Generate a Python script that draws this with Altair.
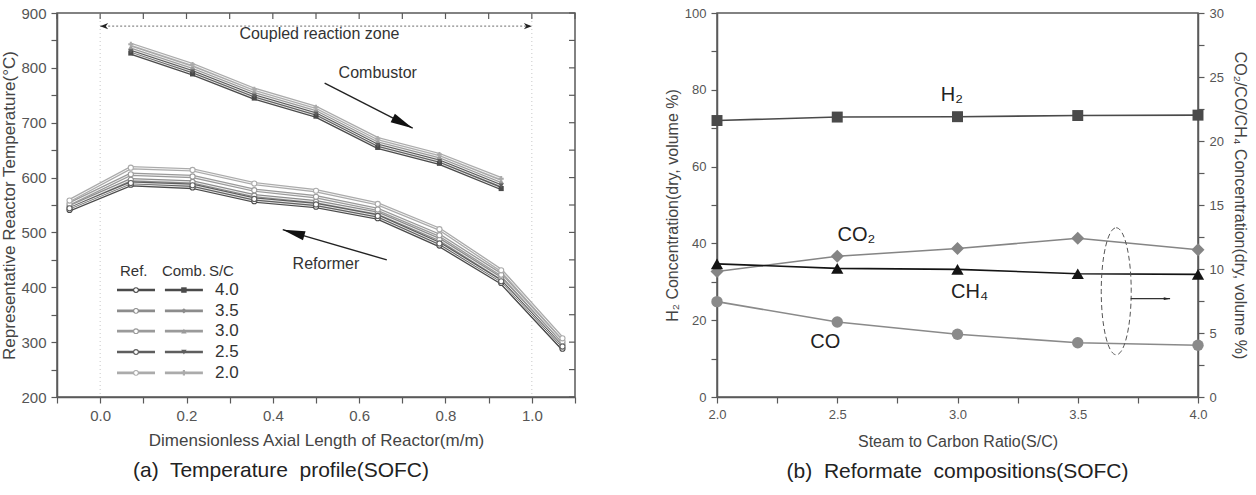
import altair as alt
import pandas as pd

FONT = "Liberation Sans"
AX = "#5a5a5a"
LBL = "#555555"
TTL = "#444444"

# ---------------- (a) temperature profile ----------------
ref_pos = [-0.071, 0.071, 0.214, 0.357, 0.5, 0.643, 0.786, 0.929, 1.071]
comb_pos = [0.071, 0.214, 0.357, 0.5, 0.643, 0.786, 0.929]

sc_levels = ["4.0", "3.5", "3.0", "2.5", "2.0"]
sc_colors = ["#4a4a4a", "#8c8c8c", "#9a9a9a", "#5e5e5e", "#ababab"]
comb_shapes = ["square", "diamond", "triangle-up", "triangle-down", "cross"]

# reformer side temperatures (deg C)
ref_40 = [541, 587, 582, 557, 547, 526, 476, 408, 288]
ref_35 = [547, 596, 592, 567, 556, 535, 487, 416, 296]
ref_30 = [552, 606, 602, 577, 565, 542, 495, 423, 301]
ref_25 = [544, 590, 586, 561, 551, 530, 480, 411, 292]
ref_20 = [558, 618, 614, 589, 576, 552, 506, 431, 307]

# combustor side temperatures (deg C)
comb_40 = [827, 789, 745, 712, 655, 626, 580]
comb_35 = [834, 797, 753, 720, 663, 634, 589]
comb_30 = [838, 801, 757, 724, 667, 638, 593]
comb_25 = [830, 793, 749, 716, 659, 630, 585]
comb_20 = [843, 806, 761, 728, 671, 642, 598]

x_ticks_a = [-0.1, 0.0, 0.1, 0.2, 0.3, 0.4, 0.5, 0.6, 0.7, 0.8, 0.9, 1.0, 1.1]
y_ticks_a = [200, 250, 300, 350, 400, 450, 500, 550, 600, 650, 700, 750, 800, 850, 900]

zone_edges = [0.0, 1.0]
zone_level = 876

legend_rows = [395, 357, 320, 282, 244]
legend_head = 430

W_A, H_A = 518, 384

ref_series = [ref_40, ref_35, ref_30, ref_25, ref_20]
comb_series = [comb_40, comb_35, comb_30, comb_25, comb_20]

df_ref = pd.DataFrame(
    [{"sc": s, "x": x, "T": t} for s, ts in zip(sc_levels, ref_series) for x, t in zip(ref_pos, ts)]
)
df_comb = pd.DataFrame(
    [{"sc": s, "x": x, "T": t} for s, ts in zip(sc_levels, comb_series) for x, t in zip(comb_pos, ts)]
)

ax_x_a = alt.Axis(
    values=x_ticks_a,
    labelExpr="round(datum.value*10) % 2 == 0 ? format(datum.value, '.1f') : ''",
    title="Dimensionless Axial Length of Reactor(m/m)",
    grid=False, tickSize=6, labelPadding=5, titlePadding=9,
    labelFontSize=15, titleFontSize=17, labelFont=FONT, titleFont=FONT,
    labelColor=LBL, titleColor=TTL, titleFontWeight="normal",
    domainColor=AX, tickColor=AX, domainWidth=1.5, tickWidth=1.2,
    labelOverlap=False, labelFlush=False,
)
ax_y_a = alt.Axis(
    values=y_ticks_a,
    labelExpr="datum.value % 100 == 0 ? datum.label : ''",
    title="Representative Reactor Temperature(°C)",
    grid=False, tickSize=6, labelPadding=5, titlePadding=2,
    labelFontSize=15, titleFontSize=17, labelFont=FONT, titleFont=FONT,
    labelColor=LBL, titleColor=TTL, titleFontWeight="normal",
    domainColor=AX, tickColor=AX, domainWidth=1.5, tickWidth=1.2,
    labelOverlap=False, labelFlush=False,
)


def ax_(field):
    return alt.X(field, type="quantitative",
                 scale=alt.Scale(domain=[-0.1, 1.1], nice=False, zero=False), axis=ax_x_a)


def ay_(field):
    return alt.Y(field, type="quantitative",
                 scale=alt.Scale(domain=[200, 900], nice=False, zero=False), axis=ax_y_a)


col_scale = alt.Scale(domain=sc_levels, range=sc_colors)
shp_scale = alt.Scale(domain=sc_levels, range=comb_shapes)

edges = alt.Chart(pd.DataFrame({"x": zone_edges})).mark_rule(
    color="#c8c8c8", strokeDash=[1, 3], strokeWidth=1
).encode(x=ax_("x"))


def tube(df):
    outer = alt.Chart(df).mark_line(strokeWidth=3.4).encode(
        x=ax_("x"), y=ay_("T"), color=alt.Color("sc:N", scale=col_scale, legend=None)
    )
    inner = alt.Chart(df).mark_line(strokeWidth=1.0, color="white", opacity=0.85).encode(
        x=ax_("x"), y=ay_("T"), detail="sc:N"
    )
    return outer + inner


ref_pts = alt.Chart(df_ref).mark_point(
    shape="circle", size=26, fill="white", fillOpacity=1, strokeWidth=1.1
).encode(x=ax_("x"), y=ay_("T"), stroke=alt.Stroke("sc:N", scale=col_scale, legend=None))

comb_pts = alt.Chart(df_comb).mark_point(filled=True, size=26, opacity=1).encode(
    x=ax_("x"), y=ay_("T"),
    color=alt.Color("sc:N", scale=col_scale, legend=None),
    shape=alt.Shape("sc:N", scale=shp_scale, legend=None),
)

# coupled reaction zone marker
zone_line = alt.Chart(pd.DataFrame({"x": [zone_edges[0]], "x2": [zone_edges[1]], "T": [zone_level]})).mark_rule(
    color="#8a8a8a", strokeDash=[2, 2], strokeWidth=1.2
).encode(x=ax_("x"), x2="x2:Q", y=ay_("T"))

BARB = "M0,0L-2,-0.8L-1.4,0L-2,0.8Z"
zone_heads = alt.Chart(pd.DataFrame({"x": zone_edges, "T": [zone_level, zone_level], "a": [180, 0]})).mark_point(
    shape=BARB, size=64, filled=True, color="#222", opacity=1
).encode(x=ax_("x"), y=ay_("T"), angle=alt.Angle("a:Q", scale=None))

zone_text = alt.Chart(pd.DataFrame({"x": [0.508], "T": [862], "t": ["Coupled reaction zone"]})).mark_text(
    font=FONT, fontSize=16, color="#333"
).encode(x=ax_("x"), y=ay_("T"), text="t:N")

ARROW = "M0,0L-2,-0.42L-2,0.42Z"
arrows = pd.DataFrame({
    "x": [0.52, 0.664], "T": [772, 450],
    "x2": [0.724, 0.423], "T2": [690, 505],
    "a": [27, 196],
})
arrow_lines = alt.Chart(arrows).mark_rule(color="#222", strokeWidth=1.4).encode(
    x=ax_("x"), y=ay_("T"), x2="x2:Q", y2="T2:Q"
)
arrow_heads = alt.Chart(arrows).mark_point(shape=ARROW, size=500, filled=True, color="#111", opacity=1).encode(
    x=ax_("x2"), y=ay_("T2"), angle=alt.Angle("a:Q", scale=None)
)
side_text = alt.Chart(pd.DataFrame({
    "x": [0.643, 0.523], "T": [790, 443], "t": ["Combustor", "Reformer"],
})).mark_text(font=FONT, fontSize=16, color="#333").encode(x=ax_("x"), y=ay_("T"), text="t:N")

# legend block
leg = pd.DataFrame({"sc": sc_levels, "T": legend_rows})
leg["rx0"], leg["rx1"], leg["rm"] = 0.039, 0.127, 0.083
leg["cx0"], leg["cx1"], leg["cm"] = 0.150, 0.238, 0.194
leg["tx"] = 0.266
leg_ref_line = alt.Chart(leg).mark_rule(strokeWidth=2.6).encode(
    x=ax_("rx0"), x2="rx1:Q", y=ay_("T"), color=alt.Color("sc:N", scale=col_scale, legend=None)
)
leg_comb_line = alt.Chart(leg).mark_rule(strokeWidth=2.6).encode(
    x=ax_("cx0"), x2="cx1:Q", y=ay_("T"), color=alt.Color("sc:N", scale=col_scale, legend=None)
)
leg_ref_pt = alt.Chart(leg).mark_point(shape="circle", size=22, fill="white", fillOpacity=1, strokeWidth=1.1).encode(
    x=ax_("rm"), y=ay_("T"), stroke=alt.Stroke("sc:N", scale=col_scale, legend=None)
)
leg_comb_pt = alt.Chart(leg).mark_point(filled=True, size=30, opacity=1).encode(
    x=ax_("cm"), y=ay_("T"),
    color=alt.Color("sc:N", scale=col_scale, legend=None),
    shape=alt.Shape("sc:N", scale=shp_scale, legend=None),
)
leg_text = alt.Chart(leg).mark_text(font=FONT, fontSize=17, color="#333", align="left").encode(
    x=ax_("tx"), y=ay_("T"), text="sc:N"
)
leg_head = alt.Chart(pd.DataFrame({
    "x": [0.046, 0.143, 0.252], "T": [legend_head] * 3, "t": ["Ref.", "Comb.", "S/C"],
})).mark_text(font=FONT, fontSize=15, color="#333", align="left").encode(x=ax_("x"), y=ay_("T"), text="t:N")

# inward ticks along the top and right frame
top_ticks = alt.Chart(pd.DataFrame({"x": x_ticks_a})).mark_rule(color=AX, strokeWidth=1.2).encode(
    x=ax_("x"), y=alt.value(0), y2=alt.value(6)
)
right_ticks = alt.Chart(pd.DataFrame({"T": y_ticks_a})).mark_rule(color=AX, strokeWidth=1.2).encode(
    y=ay_("T"), x=alt.value(W_A - 6), x2=alt.value(W_A)
)

panel_a = alt.layer(
    edges, tube(df_ref), tube(df_comb), ref_pts, comb_pts,
    zone_line, zone_heads, zone_text, arrow_lines, arrow_heads, side_text,
    leg_ref_line, leg_comb_line, leg_ref_pt, leg_comb_pt, leg_text, leg_head,
    top_ticks, right_ticks,
).properties(
    width=W_A, height=H_A,
    title=alt.TitleParams(
        text="(a)\u00a0 Temperature\u00a0 profile(SOFC)", orient="bottom", anchor="middle",
        font=FONT, fontSize=21, fontWeight="normal", color="#222", offset=12, dx=-35,
    ),
)

# ---------------- (b) reformate compositions ----------------
sc_ratio = [2.0, 2.5, 3.0, 3.5, 4.0]
h2 = [72.0, 72.9, 73.0, 73.3, 73.4]
co2 = [9.8, 11.0, 11.6, 12.4, 11.5]
ch4 = [10.4, 10.05, 9.97, 9.63, 9.58]
co = [7.45, 5.86, 4.9, 4.24, 4.04]

x_ticks_b = [2.0, 2.25, 2.5, 2.75, 3.0, 3.25, 3.5, 3.75, 4.0]
yl_ticks_b = [0, 10, 20, 30, 40, 50, 60, 70, 80, 90, 100]
yr_ticks_b = [0, 2.5, 5, 7.5, 10, 12.5, 15, 17.5, 20, 22.5, 25, 27.5, 30]

species = ["CO\u2082", "CH\u2084", "CO"]
species_colors = ["#858585", "#141414", "#8a8a8a"]
species_shapes = ["diamond", "triangle-up", "circle"]
species_sizes = [170, 130, 120]

W_B, H_B = 481, 384

common_b = dict(
    grid=False, tickSize=6, labelPadding=5,
    labelFontSize=13, titleFontSize=16, labelFont=FONT, titleFont=FONT,
    labelColor=LBL, titleColor=TTL, titleFontWeight="normal",
    domainColor=AX, tickColor=AX, domainWidth=1.5, tickWidth=1.2,
    labelOverlap=False, labelFlush=False,
)
ax_x_b = alt.Axis(
    values=x_ticks_b,
    labelExpr="round(datum.value*4) % 2 == 0 ? format(datum.value, '.1f') : ''",
    title="Steam to Carbon Ratio(S/C)", titlePadding=12, **common_b,
)
ax_yl_b = alt.Axis(
    values=yl_ticks_b,
    labelExpr="datum.value % 20 == 0 ? datum.label : ''",
    title="H\u2082 Concentration(dry, volume %)", titlePadding=4, **common_b,
)
ax_yr_b = alt.Axis(
    values=yr_ticks_b, orient="right",
    labelExpr="datum.value % 5 == 0 ? datum.label : ''",
    title="CO\u2082/CO/CH\u2084 Concentration(dry, volume %)", titlePadding=8, **common_b,
)


def bx(field):
    return alt.X(field, type="quantitative",
                 scale=alt.Scale(domain=[2.0, 4.0], nice=False, zero=False), axis=ax_x_b)


def byl(field):
    return alt.Y(field, type="quantitative",
                 scale=alt.Scale(domain=[0, 100], nice=False), axis=ax_yl_b)


def byr(field):
    return alt.Y(field, type="quantitative",
                 scale=alt.Scale(domain=[0, 30], nice=False), axis=ax_yr_b)


df_h2 = pd.DataFrame({"s": sc_ratio, "v": h2})
h2_line = alt.Chart(df_h2).mark_line(color="#4a4a4a", strokeWidth=1.6).encode(x=bx("s"), y=byl("v"))
h2_pts = alt.Chart(df_h2).mark_point(shape="square", size=120, filled=True, color="#4a4a4a", opacity=1).encode(
    x=bx("s"), y=byl("v")
)
labels_b = alt.Chart(pd.DataFrame({
    "s": [2.977, 2.58, 3.05, 2.45],
    "v": [77.1, 40.6, 25.8, 12.8],
    "t": ["H\u2082", "CO\u2082", "CH\u2084", "CO"],
})).mark_text(font=FONT, fontSize=20, color="#222", baseline="alphabetic").encode(
    x=bx("s"), y=byl("v"), text="t:N"
)
left_part = alt.layer(h2_line, h2_pts, labels_b)

df_sp = pd.DataFrame(
    [{"sp": n, "s": s, "v": v} for n, vals in zip(species, [co2, ch4, co]) for s, v in zip(sc_ratio, vals)]
)
sp_col = alt.Scale(domain=species, range=species_colors)
sp_lines = alt.Chart(df_sp).mark_line(strokeWidth=1.6).encode(
    x=bx("s"), y=byr("v"), color=alt.Color("sp:N", scale=sp_col, legend=None)
)
sp_pts = alt.Chart(df_sp).mark_point(filled=True, opacity=1).encode(
    x=bx("s"), y=byr("v"),
    color=alt.Color("sp:N", scale=sp_col, legend=None),
    shape=alt.Shape("sp:N", scale=alt.Scale(domain=species, range=species_shapes), legend=None),
    size=alt.Size("sp:N", scale=alt.Scale(domain=species, range=species_sizes), legend=None),
)

# dashed ellipse grouping the right-axis series, with its pointer
ELLIPSE = "M0,-1A0.236,1,0,1,1,0,1A0.236,1,0,1,1,0,-1Z"
ellipse = alt.Chart(pd.DataFrame({"s": [3.66], "v": [8.26]})).mark_point(
    shape=ELLIPSE, size=16129, filled=False, color="#555", strokeDash=[5, 3], strokeWidth=1, opacity=1
).encode(x=bx("s"), y=byr("v"))
pointer = pd.DataFrame({"s": [3.72], "s2": [3.884], "v": [7.68]})
pointer_line = alt.Chart(pointer).mark_rule(color="#333", strokeWidth=1.2).encode(
    x=bx("s"), x2="s2:Q", y=byr("v")
)
pointer_head = alt.Chart(pointer).mark_point(shape=ARROW, size=40, filled=True, color="#222", opacity=1).encode(
    x=bx("s2"), y=byr("v")
)
right_part = alt.layer(sp_lines, sp_pts, ellipse, pointer_line, pointer_head)

panel_b = alt.layer(left_part, right_part).resolve_scale(y="independent").properties(
    width=W_B, height=H_B,
    title=alt.TitleParams(
        text="(b)\u00a0 Reformate\u00a0 compositions(SOFC)", orient="bottom", anchor="middle",
        font=FONT, fontSize=21, fontWeight="normal", color="#222", offset=12,
    ),
)

chart = alt.hconcat(panel_a, panel_b, spacing=86).resolve_scale(
    color="independent", shape="independent", stroke="independent", size="independent"
).properties(
    padding={"left": 0, "top": 5, "right": 4, "bottom": 2},
    background="white",
).configure_view(stroke=AX, strokeWidth=1.5)

chart.save("out.html", embed_options={"renderer": "svg", "actions": False})
